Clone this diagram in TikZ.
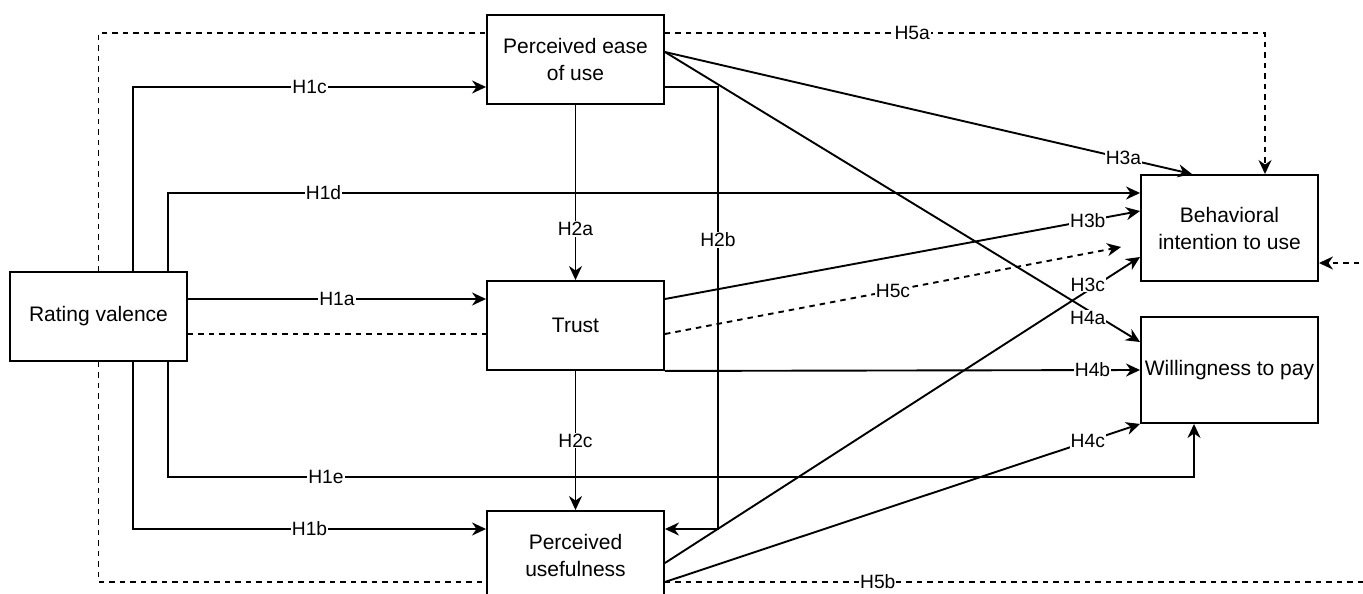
\documentclass[tikz,border=0pt]{standalone}
\usepackage{fontspec}
\setmainfont{Liberation Sans}
\usetikzlibrary{arrows.meta}

\begin{document}
\begin{tikzpicture}[x=1pt, y=-1pt, line width=1.9pt, every node/.style = {align=center}]
	\tikzstyle{box} = [shape=rectangle, draw, fill=white, minimum width=177pt, minimum height=89pt, inner sep=0pt, font=\fontsize{21}{27}\selectfont]
	\tikzstyle{tall} = [minimum height=106pt]
	\tikzstyle{hyp} = [fill=white, inner sep=1pt, font=\fontsize{19.25}{22}\selectfont]
	\tikzstyle{arr} = [-{Stealth[length=14pt, width=13pt, inset=4.5pt]}]
	\tikzstyle{dsh} = [dash pattern=on 5.5pt off 5pt]
	\useasboundingbox (0,0) rectangle (1363,594);
	\clip (0,0) rectangle (1363,594);
	\node[box] (rv) at (98.5,316.5) {Rating valence};
	\node[box] (peu) at (575.5,59.5) {Perceived ease\\of use};
	\node[box] (trust) at (575.5,325.5) {Trust};
	\node[box] (pu) at (575.5,555.5) {Perceived\\usefulness};
	\node[box, tall] (bi) at (1229.5,228) {Behavioral\\intention to use};
	\node[box, tall] (wtp) at (1229.5,370) {Willingness to pay};
	\draw[dsh] (rv.north) |- ([yshift=26.5pt]peu.west);
	\draw[dsh, arr] ([yshift=26.5pt]peu.east) -| node[hyp, pos=0.206]{H5a} ([xshift=35.5pt]bi.north);
	\draw[dsh] (rv.south) |- ([yshift=-26.5pt]pu.west);
	\draw[dsh, arr] ([yshift=-26.5pt]pu.east) -- node[hyp, pos=0.28]{H5b} ++(760,0) |- ([yshift=-35pt]bi.east);
	\draw[dsh] ([yshift=-17.5pt]rv.east) -- ([yshift=-8.5pt]trust.west);
	\draw[dsh, arr] ([yshift=-8.5pt]trust.east) -- node[hyp]{H5c} ([xshift=-19pt, yshift=-19pt]bi.west);
	\draw[arr] ([xshift=34.5pt]rv.north) |- node[hyp, pos=0.75]{H1c} ([yshift=-27.5pt]peu.west);
	\draw[arr] ([xshift=69.5pt]rv.north) |- node[hyp, pos=0.58]{H1d} ([yshift=35pt]bi.west);
	\draw[arr] ([yshift=17.5pt]rv.east) -- node[hyp]{H1a} ([yshift=26.5pt]trust.west);
	\draw[arr] ([xshift=34.5pt]rv.south) |- node[hyp, pos=0.75]{H1b} ([yshift=26.5pt]pu.west);
	\draw[arr] ([xshift=69.5pt]rv.south) -- ++(0,115) -| node[hyp, pos=0.077]{H1e} ([xshift=-35.5pt]wtp.south);
	\draw[arr] (peu) -- node[hyp, pos=0.71]{H2a} (trust);
	\draw[arr] ([yshift=-27.5pt]peu.east) -- ++(53,0) |- node[hyp, pos=0.173]{H2b} ([yshift=26.5pt]pu.east);
	\draw[arr] (trust) -- node[hyp]{H2c} (pu);
	\draw[arr] ([yshift=7.5pt]peu.east) -- node[hyp, pos=0.87]{H3a} ([xshift=-37.5pt]bi.north);
	\draw[arr] ([yshift=26.5pt]trust.east) -- node[hyp, pos=0.89]{H3b} ([yshift=17pt]bi.west);
	\draw[arr] ([yshift=-7.5pt]pu.east) -- node[hyp, pos=0.89, yshift=6pt]{H3c} ([yshift=-29pt]bi.west);
	\draw[arr] ([yshift=7.5pt]peu.east) -- node[hyp, pos=0.89, yshift=-8pt]{H4a} ([yshift=28pt]wtp.west);
	\draw[arr] (trust.south east) -- node[hyp, pos=0.9]{H4b} (wtp.west);
	\draw[arr] ([yshift=-26.5pt]pu.east) -- node[hyp, pos=0.89]{H4c} (wtp.south west);
\end{tikzpicture}
\end{document}
